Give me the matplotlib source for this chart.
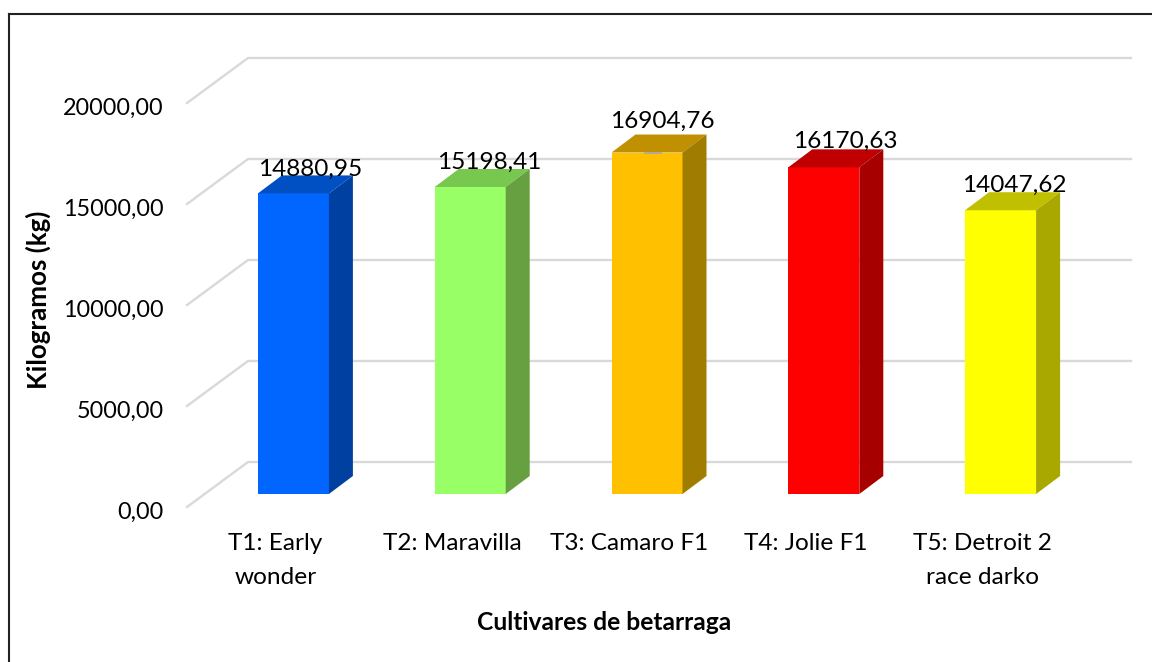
import matplotlib
matplotlib.use("Agg")
import matplotlib.pyplot as plt
from matplotlib.lines import Line2D
from matplotlib.transforms import ScaledTranslation

# data
cultivars = ["T1: Early\nwonder", "T2: Maravilla", "T3: Camaro F1", "T4: Jolie F1", "T5: Detroit 2\nrace darko"]
kg = [14880.95, 15198.41, 16904.76, 16170.63, 14047.62]
yticks = [0, 5000, 10000, 15000, 20000]

front_col = ["#0066FF", "#99FF66", "#FFC000", "#FF0000", "#FFFF00"]
top_col = ["#0050C4", "#78C850", "#C09000", "#C00000", "#C0C000"]
side_col = ["#0040A0", "#66A040", "#A07C00", "#A60000", "#A8A800"]

# nudges of the value labels in pixels (x, y), the chart places them by hand
label_dx = [17, 19, 15, 21, 14]
label_dy = [6, 7, 13, 8, 7]

plt.rcParams["font.family"] = ["Lato", "DejaVu Sans"]
fsize = 16.8

W, H = 1152, 662
px_cat = 176.8    # pixels per category
px_kg = 0.0202    # pixels per kg
x0, x1, y0, ytop = 187, 1131, 507, 40

fig = plt.figure(figsize=(W/100, H/100), dpi=100)
ax = fig.add_axes([x0/W, (H-y0)/H, (x1-x0)/W, (y0-ytop)/H])
ax.set_xlim(-0.5, -0.5+(x1-x0)/px_cat)
ax.set_ylim(0, (y0-ytop)/px_kg)
for s in ax.spines.values():
	s.set_visible(False)

# floor depth in data units
depth_x = 61/px_cat
depth_y = 45/px_kg

# grid runs along the side wall and then the back wall
xleft, xright = ax.get_xlim()
for v in yticks:
	ax.plot([xleft, xleft+depth_x, xright], [v, v+depth_y, v+depth_y],
			color="#D9D9D9", lw=1.7, zorder=1, clip_on=False)

# bars, each one a front face plus top and side faces
width = 71/px_cat
shift_x = 18/px_cat
shift_y = 13/px_kg
bar_x = 24/px_cat
bar_y = 18/px_kg

for i, val in enumerate(kg):
	left = i + shift_x - width/2
	right = left + width
	base = shift_y
	top = base + val
	ax.bar(left+width/2, val, width, bottom=base, color=front_col[i], zorder=3)
	ax.fill([left, right, right+bar_x, left+bar_x],
			[top, top, top+bar_y, top+bar_y], color=top_col[i], lw=0, zorder=3)
	ax.fill([right, right+bar_x, right+bar_x, right],
			[base, base+bar_y, top+bar_y, top], color=side_col[i], lw=0, zorder=3)
	ax.annotate(f"{val:.2f}".replace(".", ","), (left+width/2, top+bar_y),
			xytext=(label_dx[i], label_dy[i]), textcoords="offset pixels",
			ha="center", va="center", fontsize=17.6, color="black", zorder=5)

# stray bit of gridline on top of the T3 bar
ax.plot([2+shift_x-0.01, 2+shift_x+0.08], [shift_y+kg[2]]*2, color="#A6A6A6", lw=1.2, zorder=4)

ax.set_yticks(yticks)
ax.set_yticklabels([f"{v:.2f}".replace(".", ",") for v in yticks], fontsize=fsize)
ax.set_xticks(range(len(cultivars)))
ax.set_xticklabels(cultivars, fontsize=17.6, linespacing=1.72)
ax.tick_params(axis="y", length=0, pad=17)
ax.tick_params(axis="x", length=0, pad=19)

# tick labels sit a bit under the gridline start
down = ScaledTranslation(0, -3/100, fig.dpi_scale_trans)
for lab in ax.get_yticklabels():
	lab.set_transform(lab.get_transform()+down)

fig.text(38.5/W, 1-300/H, "Kilogramos (kg)", rotation=90, ha="center", va="center",
		fontsize=18.6, fontweight="bold")
fig.text(604/W, 1-622.5/H, "Cultivares de betarraga", ha="center", va="center",
		fontsize=17.7, fontweight="bold")

# outer border, only top and left fall inside the picture
fig.add_artist(Line2D([9/W, 9/W], [0, 1-14/H], color="#222222", lw=1.5))
fig.add_artist(Line2D([9/W, 1], [1-14/H, 1-14/H], color="#222222", lw=1.5))

fig.savefig("out.png", dpi=100)
